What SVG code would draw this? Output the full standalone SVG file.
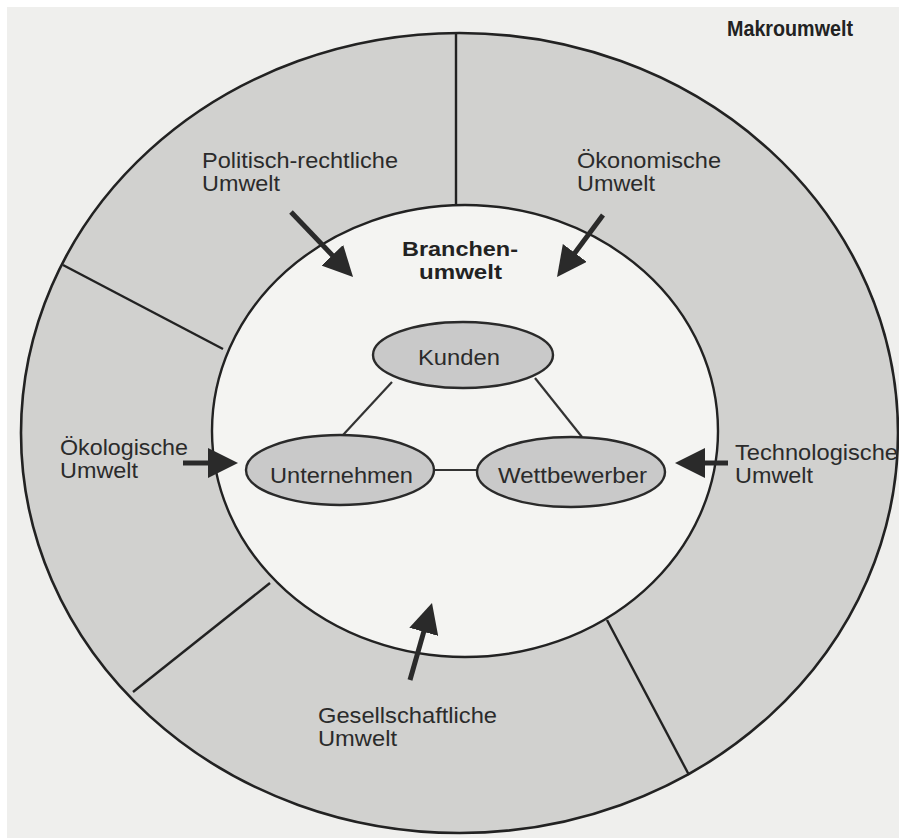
<svg xmlns="http://www.w3.org/2000/svg" width="899" height="838" viewBox="0 0 899 838">
  <style>
    .lbl { font-family: "Liberation Sans", Arial, sans-serif; font-size: 22px; fill: #2b2b2b; }
    .bold { font-weight: bold; fill: #222; }
    .head { font-size: 20px; }
    .ring-line { stroke: #222; stroke-width: 2.4; fill: none; }
    .node { fill: #c9c9c9; stroke: #2a2a2a; stroke-width: 2.4; }
    .link { stroke: #333; stroke-width: 2.2; fill: none; }
    .arrow { stroke: #2a2a2a; stroke-width: 5; fill: none; marker-end: url(#head); }
  </style>
  <defs>
    <marker id="head" markerUnits="userSpaceOnUse" markerWidth="30" markerHeight="30" refX="2" refY="15" orient="auto">
      <path d="M0,0 L30,15 L0,30 Z" fill="#2a2a2a"/>
    </marker>
  </defs>

  <!-- page -->
  <rect width="899" height="838" fill="#ffffff"/>
  <rect x="7" y="7" width="892" height="831" fill="#efefed"/>

  <!-- macro environment ring -->
  <g id="makroumwelt">
    <ellipse cx="459.5" cy="433" rx="438.5" ry="400" fill="#d1d1cf" stroke="#222" stroke-width="2.6"/>
    <ellipse cx="465" cy="431" rx="253" ry="226" fill="#f4f4f2" stroke="#222" stroke-width="2.4"/>
    <line class="ring-line" x1="456" y1="33" x2="456" y2="205"/>
    <line class="ring-line" x1="63" y1="265" x2="223" y2="349"/>
    <line class="ring-line" x1="133" y1="692" x2="270" y2="583"/>
    <line class="ring-line" x1="607" y1="620" x2="689" y2="775"/>
    <text class="lbl bold" x="727" y="36" textLength="126" lengthAdjust="spacingAndGlyphs">Makroumwelt</text>
  </g>

  <!-- sector labels -->
  <g id="politisch">
    <text class="lbl" x="202" y="168" textLength="196" lengthAdjust="spacingAndGlyphs">Politisch-rechtliche</text>
    <text class="lbl" x="202" y="191" textLength="78" lengthAdjust="spacingAndGlyphs">Umwelt</text>
  </g>
  <g id="oekonomisch">
    <text class="lbl" x="577" y="168" textLength="144" lengthAdjust="spacingAndGlyphs">Ökonomische</text>
    <text class="lbl" x="577" y="191" textLength="78" lengthAdjust="spacingAndGlyphs">Umwelt</text>
  </g>
  <g id="oekologisch">
    <text class="lbl" x="60" y="455" textLength="128" lengthAdjust="spacingAndGlyphs">Ökologische</text>
    <text class="lbl" x="60" y="478" textLength="78" lengthAdjust="spacingAndGlyphs">Umwelt</text>
  </g>
  <g id="technologisch">
    <text class="lbl" x="735" y="460" textLength="163" lengthAdjust="spacingAndGlyphs">Technologische</text>
    <text class="lbl" x="735" y="483" textLength="78" lengthAdjust="spacingAndGlyphs">Umwelt</text>
  </g>
  <g id="gesellschaftlich">
    <text class="lbl" x="318" y="723" textLength="179" lengthAdjust="spacingAndGlyphs">Gesellschaftliche</text>
    <text class="lbl" x="318" y="746" textLength="79" lengthAdjust="spacingAndGlyphs">Umwelt</text>
  </g>

  <!-- industry environment -->
  <g id="branchenumwelt">
    <text class="lbl bold head" x="402" y="256" textLength="116" lengthAdjust="spacingAndGlyphs">Branchen-</text>
    <text class="lbl bold head" x="419" y="279" textLength="83" lengthAdjust="spacingAndGlyphs">umwelt</text>
  </g>

  <!-- connectors -->
  <g id="connectors">
    <line class="link" x1="392" y1="382" x2="343" y2="435"/>
    <line class="link" x1="535" y1="378" x2="582" y2="437"/>
    <line class="link" x1="434" y1="470" x2="477" y2="470"/>
    <line class="arrow" x1="291" y1="212" x2="333.7" y2="256.7"/>
    <line class="arrow" x1="603" y1="215" x2="573.7" y2="254.5"/>
    <line class="arrow" x1="183" y1="463" x2="210" y2="463"/>
    <line class="arrow" x1="728" y1="463" x2="703" y2="463"/>
    <line class="arrow" x1="410" y1="680" x2="424.3" y2="629.9"/>
  </g>

  <g id="kunden">
    <ellipse class="node" cx="463" cy="355" rx="90" ry="33"/>
    <text class="lbl" x="418" y="365" textLength="82" lengthAdjust="spacingAndGlyphs">Kunden</text>
  </g>
  <g id="unternehmen">
    <ellipse class="node" cx="340" cy="470" rx="94" ry="35"/>
    <text class="lbl" x="270" y="483" textLength="143" lengthAdjust="spacingAndGlyphs">Unternehmen</text>
  </g>
  <g id="wettbewerber">
    <ellipse class="node" cx="571" cy="472" rx="94" ry="35"/>
    <text class="lbl" x="498" y="483" textLength="149" lengthAdjust="spacingAndGlyphs">Wettbewerber</text>
  </g>
</svg>
